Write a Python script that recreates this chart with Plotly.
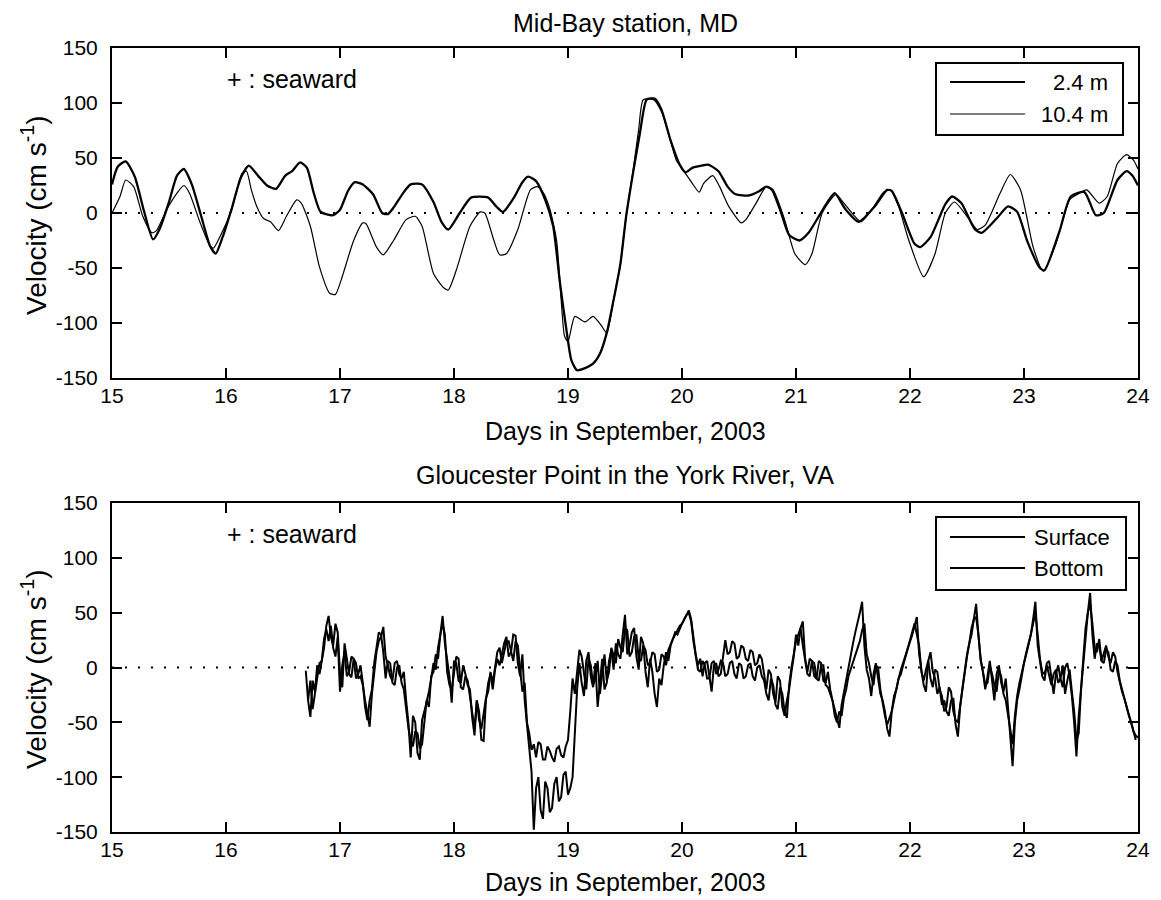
import plotly.graph_objects as go

# ---------------- data: Mid-Bay station, MD ----------------
mb_days_24 = [15.00, 15.05, 15.12, 15.20, 15.28, 15.36, 15.42, 15.50, 15.57, 15.63, 15.70, 15.78, 15.86, 15.91,
              15.97, 16.05, 16.13, 16.20, 16.28, 16.36, 16.44, 16.52, 16.58, 16.65, 16.71, 16.77, 16.83, 16.94,
              17.00, 17.07, 17.13, 17.20, 17.29, 17.37, 17.42, 17.47, 17.56, 17.62, 17.72, 17.82, 17.89, 17.95,
              18.05, 18.15, 18.30, 18.37, 18.43, 18.52, 18.60, 18.65, 18.72, 18.80, 18.87, 18.93, 18.99, 19.03,
              19.08, 19.15, 19.22, 19.28, 19.34, 19.40, 19.46, 19.51, 19.57, 19.63, 19.69, 19.76, 19.82, 19.90,
              19.98, 20.03, 20.09, 20.17, 20.23, 20.32, 20.40, 20.47, 20.59, 20.68, 20.74, 20.79, 20.87, 20.94,
              21.03, 21.11, 21.20, 21.27, 21.34, 21.43, 21.55, 21.69, 21.80, 21.84, 21.93, 22.04, 22.09, 22.18,
              22.25, 22.31, 22.37, 22.45, 22.57, 22.63, 22.76, 22.86, 22.94, 23.03, 23.14, 23.18, 23.31, 23.41,
              23.53, 23.63, 23.70, 23.82, 23.90, 23.95, 24.00]
mb_vel_24 = [26, 42, 47, 33, 2, -24, -14, 10, 34, 40, 26, -2, -30, -37,
             -22, 4, 32, 43, 34, 25, 22, 34, 38, 46, 41, 18, 1, -2,
             3, 20, 28, 26, 17, 0, -1, 5, 19, 26, 26, 10, -8, -15,
             0, 14, 14, 6, 1, 13, 28, 33, 29, 12, -12, -64, -109, -134,
             -143, -141, -137, -128, -109, -79, -46, -3, 36, 72, 103, 104, 94, 66,
             44, 37, 41, 43, 44, 38, 24, 17, 16, 20, 24, 21, 0, -20,
             -25, -18, -3, 9, 18, 4, -8, 6, 21, 20, 0, -28, -31, -22,
             -6, 8, 15, 9, -15, -18, -5, 6, 1, -26, -50, -52, -17, 15,
             19, -2, 0, 30, 38, 34, 25]

mb_days_104 = [15.00, 15.07, 15.12, 15.19, 15.27, 15.35, 15.39, 15.48, 15.57, 15.63, 15.68, 15.77, 15.86, 15.89,
               15.95, 16.05, 16.14, 16.18, 16.22, 16.27, 16.33, 16.39, 16.46, 16.53, 16.62, 16.66, 16.74, 16.82,
               16.91, 16.96, 17.01, 17.12, 17.20, 17.23, 17.32, 17.38, 17.47, 17.58, 17.66, 17.72, 17.82, 17.91,
               17.95, 18.02, 18.14, 18.23, 18.27, 18.35, 18.40, 18.46, 18.56, 18.67, 18.73, 18.78, 18.84, 18.90,
               18.94, 18.97, 19.00, 19.06, 19.15, 19.22, 19.29, 19.34, 19.40, 19.46, 19.51, 19.57, 19.62, 19.66,
               19.75, 19.82, 19.89, 19.95, 20.01, 20.09, 20.15, 20.19, 20.27, 20.33, 20.41, 20.52, 20.56, 20.65,
               20.74, 20.80, 20.90, 20.99, 21.08, 21.14, 21.23, 21.35, 21.42, 21.57, 21.69, 21.77, 21.83, 21.90,
               21.99, 22.12, 22.22, 22.31, 22.39, 22.50, 22.59, 22.66, 22.79, 22.88, 22.97, 23.08, 23.17, 23.28,
               23.40, 23.47, 23.55, 23.66, 23.73, 23.82, 23.90, 23.96, 24.00]
mb_vel_104 = [0, 15, 30, 24, -3, -18, -16, 3, 18, 25, 18, -8, -30, -32,
              -21, 3, 36, 38, 22, 6, -5, -8, -16, -3, 12, 9, -12, -49,
              -73, -74, -61, -25, -9, -10, -31, -38, -25, -6, -3, -12, -55, -68,
              -70, -52, -12, 1, 0, -25, -38, -37, -15, 21, 24, 19, 4, -25,
              -79, -112, -117, -94, -99, -94, -102, -109, -79, -46, -3, 38, 76, 103,
              103, 92, 69, 48, 39, 27, 19, 27, 34, 24, 6, -9, -6, 9,
              24, 21, -6, -37, -47, -37, 0, 17, 9, -8, 7, 19, 21, 6,
              -25, -58, -37, 0, 10, -3, -15, -11, 18, 35, 21, -31, -53, -28,
              12, 17, 21, 9, 15, 45, 53, 48, 40]

# ---------------- data: Gloucester Point, VA (sampled every 0.02 day) ----------------
gp_surface_start = 16.70
gp_bottom_start = 16.72
gp_step = 0.02
gp_surface_vel = [
    -3, -30, -45, -12, -22, 2, -6, 8, 18, 38, 47, 28, 20, 40, 32, -5, -18, 22, 6, -6,
    -9, 8, 4, -10, -8, -16, -30, -42, -54, -24, -6, 14, 24, 28, 37, 10, 2, -8, -12, 4,
    6, -6, -10, -4, -30, -50, -82, -44, -50, -78, -84, -48, -40, -32, -22, -10, 4, -2, 18, 30,
    47, 22, 8, -8, -32, 6, 4, -12, -14, 2, -6, -16, -20, -46, -62, -30, -40, -66, -67, -30,
    -14, -6, -20, -2, 8, 2, 12, 22, 28, 10, 14, 30, 29, 4, -8, 12, -30, -50, -70, -95,
    -148, -110, -100, -130, -138, -104, -110, -132, -128, -106, -100, -122, -118, -98, -95, -116, -110, -100, -60, -20,
    4, -14, -26, 6, 14, -8, -18, 4, -36, -10, 8, -20, -14, 6, 16, -2, 22, 12, 8, 30,
    48, 12, 20, 32, 36, 10, -2, 28, 22, -4, -18, 8, -4, -24, -36, -10, -16, 2, 14, 6,
    20, 26, 32, 30, 36, 40, 44, 48, 52, 44, 28, 12, 2, 8, -8, 4, 6, -8, -22, 2,
    4, -8, -6, 10, 25, 12, 14, 24, 22, 8, 10, 20, 18, 8, 6, 16, 14, 2, 4, 12,
    8, -6, -20, -2, -6, -24, -32, -8, -12, -36, -44, -30, -20, -4, 10, 30, 20, 36, 42, 8,
    -4, 8, 6, -8, -10, 6, 4, -12, -14, -4, -20, -30, -38, -48, -55, -34, -22, -12, 0, 14,
    22, 32, 40, 50, 60, 20, -2, -10, -26, -6, 4, -12, -24, -30, -40, -56, -63, -40, -30, -18,
    -10, -2, 4, 12, 18, 24, 30, 38, 46, 12, 0, -16, -22, 6, 14, -4, -10, -24, -18, -34,
    -30, -40, -44, -30, -28, -52, -63, -36, -20, -4, 10, 22, 30, 44, 58, 30, 8, -4, -20, -8,
    6, -12, -30, -6, 2, -14, -22, -10, -36, -70, -90, -50, -30, -20, -6, 4, 14, 22, 30, 44,
    60, 20, 6, -8, -12, 4, 6, -10, -24, -6, 2, -10, -18, 0, 4, -8, -26, -50, -81, -44,
    -20, 6, 32, 50, 68, 30, 8, 22, 20, 6, 4, 16, 14, -2, -4, 6, 2, -12, -20, -28,
    -38, -44, -50, -58, -66]
gp_bottom_vel = [
    -30, -12, -38, -26, -10, 4, 6, 26, 35, 24, 38, 18, 10, 28, -22, 2, 14, -8, -4, 10,
    8, -10, -6, 2, -14, -36, -48, -30, -20, 4, 18, 32, 30, 14, -10, 6, 4, -14, -16, 0,
    2, -14, -20, -40, -55, -66, -72, -58, -60, -74, -70, -50, -30, -36, -8, -4, 12, 8, 30, 40,
    30, -4, -16, -20, -4, 10, 8, -18, -20, -8, -12, -28, -44, -56, -30, -48, -56, -40, -28, -22,
    -4, -14, 2, 14, 18, 4, 14, 24, 24, 16, 6, 24, 20, -2, -22, -14, -50, -60, -75, -70,
    -82, -68, -70, -84, -84, -72, -76, -82, -86, -74, -72, -80, -82, -72, -66, -40, -10, -24, -6, 16,
    10, -6, -20, 8, 2, -16, -10, 6, -24, -6, 12, -12, -4, 18, 10, 4, 26, 18, 14, 36,
    34, 10, 14, 28, 30, 8, 6, 20, 16, 2, 4, 14, 12, -4, -2, 12, 10, 2, 16, 22,
    26, 30, 34, 38, 40, 44, 48, 50, 42, 24, 10, -2, -4, 6, 2, -10, -10, 4, 6, -6,
    -2, 6, 4, -8, -6, 4, 6, -6, -10, 4, 2, -10, -8, 2, 4, -8, -12, 0, 2, -8,
    -12, -24, -30, -10, -16, -34, -38, -18, -24, -40, -46, -16, 0, 14, 24, 30, 36, 20, 8, -6,
    -8, 6, 4, -10, -12, 2, 2, -16, -18, -24, -30, -44, -50, -40, -44, -28, -20, -8, -2, 4,
    10, 18, 24, 34, 40, 12, 4, -8, -16, 2, 0, -20, -34, -44, -52, -46, -40, -26, -20, -10,
    -6, 2, 10, 16, 24, 32, 40, 30, 20, -4, -12, -2, 6, -10, -18, -2, -4, -20, -26, -40,
    -36, -18, -22, -40, -48, -50, -34, -16, 0, 12, 22, 36, 44, 46, 30, 6, -4, -16, -14, 2,
    -6, -16, -22, -2, -8, -24, -30, -44, -60, -70, -44, -26, -14, -4, 4, 12, 20, 30, 40, 50,
    30, 8, -4, -6, 2, -8, -16, -6, -2, -14, -10, 2, -24, -12, -2, -22, -40, -66, -60, -20,
    10, 36, 50, 58, 40, 18, 14, 26, 6, 12, 20, 10, 4, 14, 10, -4, -14, -22, -28, -36,
    -44, -52, -58, -62, -64]

gp_surface_days = [round(gp_surface_start + gp_step * i, 3) for i in range(len(gp_surface_vel))]
gp_bottom_days = [round(gp_bottom_start + gp_step * i, 3) for i in range(len(gp_bottom_vel))]

# ---------------- ticks / labels ----------------
x_tick_vals = [15, 16, 17, 18, 19, 20, 21, 22, 23, 24]
x_tick_text = ["15", "16", "17", "18", "19", "20", "21", "22", "23", "24"]
y_tick_vals = [-150, -100, -50, 0, 50, 100, 150]
y_tick_text = ["-150", "-100", "-50", "0", "50", "100", "150"]
top_names = ["2.4 m", "10.4 m"]
bottom_names = ["Surface", "Bottom"]

FONT = "Liberation Sans, Arial, Helvetica, sans-serif"
W, H = 1161, 900


def px(x):
    return x / W


def py(y):
    return 1 - y / H


top_widths = [2.3, 1.2]
bottom_widths = [2.0, 2.0]

fig = go.Figure()
fig.add_trace(go.Scatter(x=mb_days_24, y=mb_vel_24, mode="lines", name=top_names[0], showlegend=False,
                         line=dict(color="black", width=top_widths[0], shape="spline", smoothing=0.6),
                         xaxis="x", yaxis="y"))
fig.add_trace(go.Scatter(x=mb_days_104, y=mb_vel_104, mode="lines", name=top_names[1], showlegend=False,
                         line=dict(color="black", width=top_widths[1], shape="spline", smoothing=0.6),
                         xaxis="x", yaxis="y"))
fig.add_trace(go.Scatter(x=gp_surface_days, y=gp_surface_vel, mode="lines", name=bottom_names[0], showlegend=False,
                         line=dict(color="black", width=bottom_widths[0]),
                         xaxis="x2", yaxis="y2"))
fig.add_trace(go.Scatter(x=gp_bottom_days, y=gp_bottom_vel, mode="lines", name=bottom_names[1], showlegend=False,
                         line=dict(color="black", width=bottom_widths[1]),
                         xaxis="x2", yaxis="y2"))

axis_common = dict(
    showgrid=False, zeroline=False, showline=True, linecolor="black", linewidth=2,
    mirror="ticks", ticks="inside", ticklen=10, tickwidth=2, tickcolor="black",
    tickfont=dict(family=FONT, size=21, color="black"), automargin=False,
)

xdom = [px(112), px(1138)]
fig.update_layout(
    width=W, height=H,
    margin=dict(l=0, r=0, t=0, b=0),
    paper_bgcolor="white", plot_bgcolor="white",
    template="none",
    font=dict(family=FONT, color="black"),
    showlegend=False,
    xaxis=dict(domain=xdom, range=[15, 24], tickvals=x_tick_vals, ticktext=x_tick_text,
               anchor="y", ticklabelstandoff=-2, **axis_common),
    yaxis=dict(domain=[py(378), py(48)], range=[-150, 150], tickvals=y_tick_vals, ticktext=y_tick_text,
               anchor="x", ticklabelstandoff=8, **axis_common),
    xaxis2=dict(domain=xdom, range=[15, 24], tickvals=x_tick_vals, ticktext=x_tick_text,
                anchor="y2", ticklabelstandoff=-2, **axis_common),
    yaxis2=dict(domain=[py(832), py(503)], range=[-150, 150], tickvals=y_tick_vals, ticktext=y_tick_text,
                anchor="x2", ticklabelstandoff=8, **axis_common),
)

# dotted zero lines
for yr, xr in (("y", "x"), ("y2", "x2")):
    fig.add_shape(type="line", xref=xr + " domain", yref=yr, x0=0, x1=1, y0=0, y1=0,
                  line=dict(color="black", width=2, dash="2px,11px"), layer="below")

ann = []


def add_text(text, x, y, size, **kw):
    ann.append(dict(text=text, x=px(x), y=py(y), xref="paper", yref="paper", showarrow=False,
                    font=dict(family=FONT, size=size, color="black"), **kw))


add_text("Mid-Bay station, MD", 625, 23, 25, xanchor="center", yanchor="middle")
add_text("Days in September, 2003", 625, 431, 25, xanchor="center", yanchor="middle")
add_text("Velocity (cm s<sup>-1</sup>)", 34, 216, 28, xanchor="center", yanchor="middle", textangle=-90)
add_text("+ : seaward", 225, 79, 25, xanchor="left", yanchor="middle")

add_text("Gloucester Point in the York River, VA", 625, 475, 25, xanchor="center", yanchor="middle")
add_text("Days in September, 2003", 625, 882, 25, xanchor="center", yanchor="middle")
add_text("Velocity (cm s<sup>-1</sup>)", 34, 670, 28, xanchor="center", yanchor="middle", textangle=-90)
add_text("+ : seaward", 225, 534, 25, xanchor="left", yanchor="middle")


# legend boxes (drawn as in the original figure: long line samples, text at right)
def legend_box(x0, x1, y0, y1, rows, names, widths, text_x, text_anchor):
    fig.add_shape(type="rect", xref="paper", yref="paper", x0=px(x0), x1=px(x1), y0=py(y1), y1=py(y0),
                  line=dict(color="black", width=2), fillcolor="white", layer="above")
    for ry, name, w in zip(rows, names, widths):
        fig.add_shape(type="line", xref="paper", yref="paper", x0=px(950), x1=px(1025), y0=py(ry), y1=py(ry),
                      line=dict(color="black", width=min(w, 1.8)), layer="above")
        add_text(name, text_x, ry, 22, xanchor=text_anchor, yanchor="middle")


legend_box(936, 1123, 63, 135, [82, 114], top_names, top_widths, 1110, "right")
legend_box(936, 1126, 517, 590, [537, 568], bottom_names, bottom_widths, 1032, "left")

fig.update_layout(annotations=ann)

fig.write_html("out.html")
